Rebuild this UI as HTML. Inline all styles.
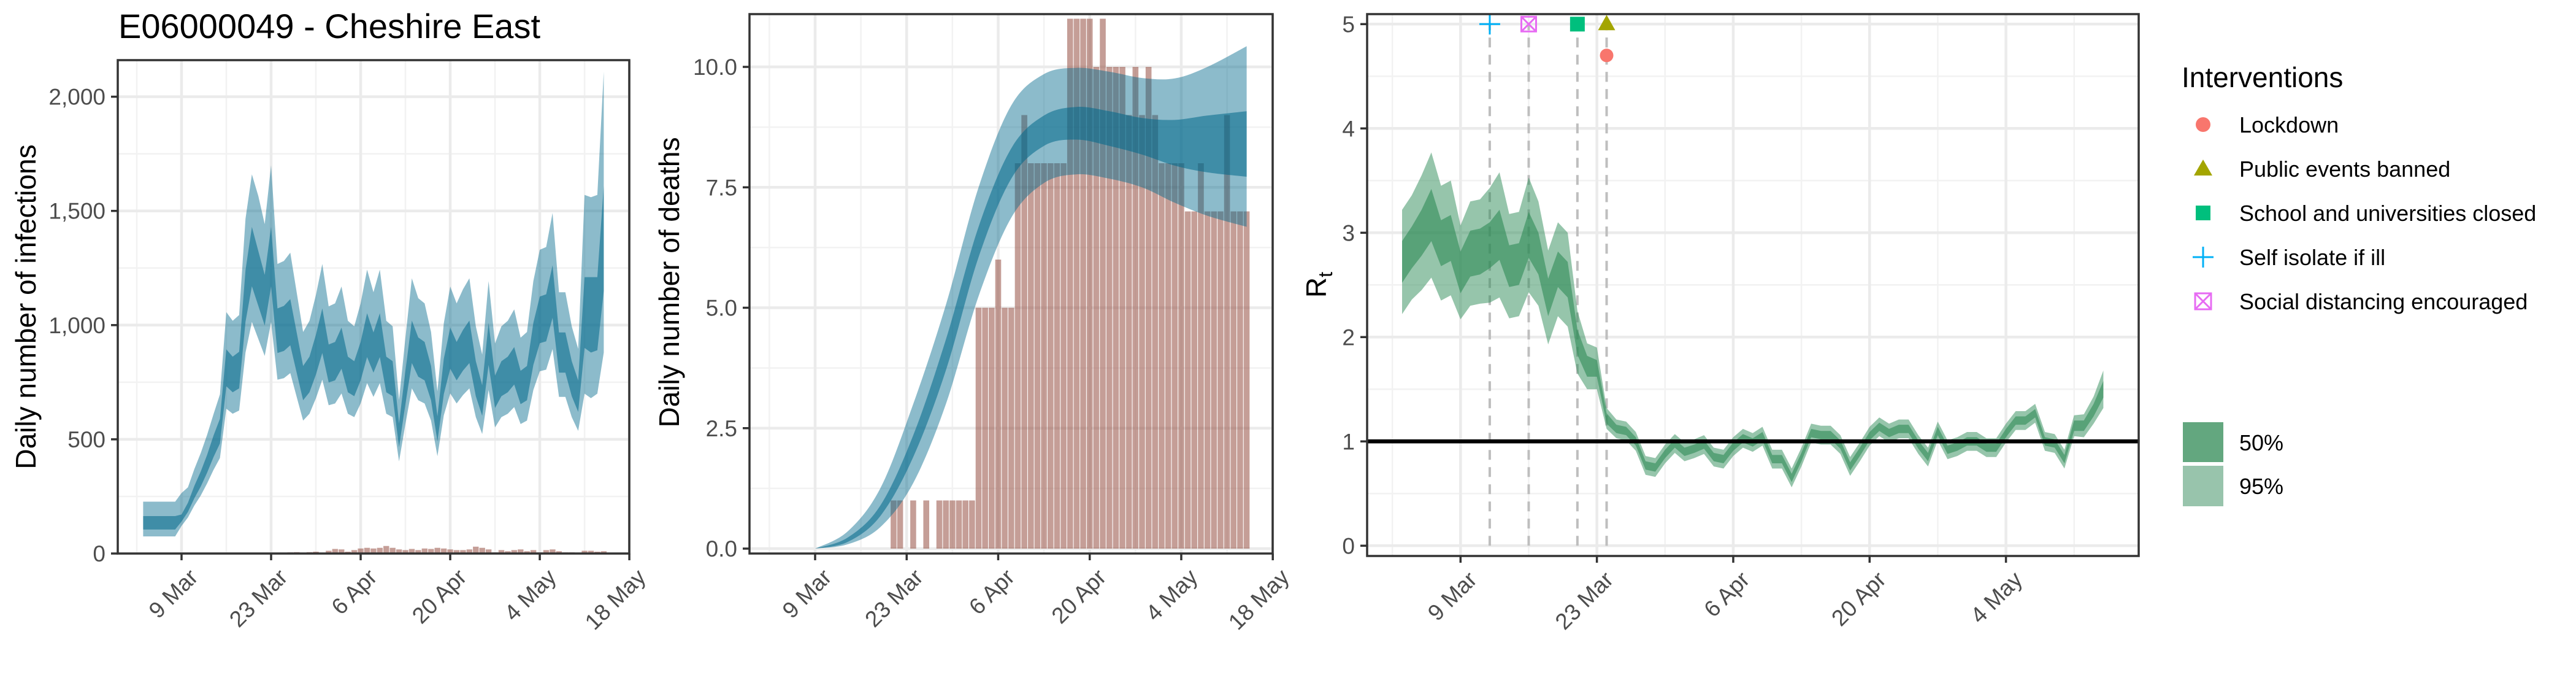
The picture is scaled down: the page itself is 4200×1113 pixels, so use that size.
<!DOCTYPE html>
<html><head><meta charset="utf-8"><style>
html,body{margin:0;padding:0;background:#fff;}
svg{display:block;font-family:"Liberation Sans",Arial,sans-serif;}
</style></head><body>
<svg id="chart" xmlns="http://www.w3.org/2000/svg" width="4200" height="1113" viewBox="0 0 4200 1113">
<rect x="0" y="0" width="4200" height="1113" fill="#ffffff"/>
<text x="193" y="62" font-size="56" fill="#000">E06000049 - Cheshire East</text>
<text transform="translate(58,500) rotate(-90)" text-anchor="middle" font-size="46" fill="#000">Daily number of infections</text>
<text transform="translate(1107,460) rotate(-90)" text-anchor="middle" font-size="46" fill="#000">Daily number of deaths</text>
<text transform="translate(2162,464) rotate(-90)" text-anchor="middle" font-size="46" fill="#000">R<tspan font-size="32" dy="10">t</tspan></text>
<g id="legend">
<text x="3557" y="142" font-size="46" fill="#000">Interventions</text>
<circle cx="3592" cy="203" r="12" fill="#F8766D"/>
<text x="3651" y="216" font-size="36">Lockdown</text>
<polygon points="3577,286 3607,286 3592,260" fill="#A3A500"/>
<text x="3651" y="288" font-size="36">Public events banned</text>
<rect x="3580" y="335" width="24" height="24" fill="#00BF7D"/>
<text x="3651" y="360" font-size="36">School and universities closed</text>
<path d="M3575,419 H3609 M3592,402 V436" stroke="#00B0F6" stroke-width="3" fill="none"/>
<text x="3651" y="432" font-size="36">Self isolate if ill</text>
<path d="M3579,478 h26 v26 h-26 z M3579,478 L3605,504 M3605,478 L3579,504" stroke="#E76BF3" stroke-width="3" fill="none"/>
<text x="3651" y="504" font-size="36">Social distancing encouraged</text>
<rect x="3559" y="688" width="66" height="65" fill="#63A77F"/>
<text x="3651" y="734" font-size="36">50%</text>
<rect x="3559" y="759" width="66" height="66" fill="#98C4AC"/>
<text x="3651" y="805" font-size="36">95%</text>
</g>
</svg>
<script>
// ---------- data ----------
const tickDays = [0, 14, 28, 42, 56, 70];
const tickLabels = ["9 Mar", "23 Mar", "6 Apr", "20 Apr", "4 May", "18 May"];
const rtTickDays = [0, 14, 28, 42, 56];
const rtTickLabels = ["9 Mar", "23 Mar", "6 Apr", "20 Apr", "4 May"];
// days since 9 Mar for daily series (3 Mar .. 14 May)
const infDays = [-6,-5,-4,-3,-2,-1,0,1,2,3,4,5,6,7,8,9,10,11,12,13,14,15,16,17,18,19,20,21,22,23,24,25,26,27,28,29,30,31,32,33,34,35,36,37,38,39,40,41,42,43,44,45,46,47,48,49,50,51,52,53,54,55,56,57,58,59,60,61,62,63,64,65,66];
const infLo95 = [75,75,75,75,75,75,121,158,210,254,307,366,418,634,612,626,880,1014,939,865,1014,761,768,790,686,582,612,679,761,649,657,701,612,597,657,746,686,746,612,597,403,567,723,671,657,582,426,605,701,657,694,723,597,523,716,552,597,612,641,567,582,716,798,805,895,686,686,597,537,700,680,700,880];
const infLo50 = [105,105,105,105,105,105,140,182,242,293,354,422,482,732,706,723,1015,1170,1084,998,1170,878,887,912,792,671,706,783,878,749,758,809,706,689,758,860,792,860,706,689,465,654,834,774,758,671,491,698,809,758,801,834,689,603,826,637,689,706,740,654,671,826,921,929,1032,792,792,689,620,900,880,890,1150];
const infHi50 = [164,164,164,164,164,164,171,222,296,359,432,516,590,894,862,883,1241,1430,1324,1220,1430,1073,1084,1114,968,821,862,957,1073,915,926,989,862,842,926,1052,968,1052,862,842,569,800,1020,946,926,821,601,853,989,926,979,1020,842,737,1010,779,842,862,904,800,821,1010,1125,1135,1262,968,968,842,758,1210,1210,1210,1610];
const infHi95 = [227,227,227,227,227,227,265,290,370,440,520,610,697,1057,1019,1044,1466,1660,1565,1442,1700,1268,1281,1317,1144,970,1019,1131,1268,1082,1095,1169,1019,995,1095,1243,1144,1243,1019,995,672,945,1205,1118,1095,970,710,1008,1169,1095,1157,1205,995,871,1193,920,995,1019,1069,945,970,1193,1330,1342,1491,1144,1144,995,896,1570,1560,1570,2110];
const caseDays = [15,16,17,18,19,20,21,22,23,24,25,26,27,28,29,30,31,32,33,34,35,36,37,38,39,40,41,42,43,44,45,46,47,48,49,50,51,52,53,54,55,56,57,58,59,60,61,62,63,64,65,66];
const caseVals = [2,3,5,6,4,6,8,4,12,20,18,8,15,22,25,22,25,33,25,18,15,20,15,22,20,25,22,18,15,15,18,30,25,18,5,15,10,15,18,10,15,5,15,18,10,5,5,3,12,12,8,10];
const deathDays = [12,13,14,15,16,17,18,19,20,21,22,23,24,25,26,27,28,29,30,31,32,33,34,35,36,37,38,39,40,41,42,43,44,45,46,47,48,49,50,51,52,53,54,55,56,57,58,59,60,61,62,63,64,65,66];
const deathVals = [1,1,0,1,0,1,0,1,1,1,1,1,1,5,5,5,6,5,5,8,9,8,8,8,8,8,8,11,11,11,11,10,11,10,10,10,9,10,9,10,9,8,8,8,8,7,7,8,7,7,7,9,7,7,7];
const dBandDays = [0,5,10,15,20,25,30,35,40,45,50,55,60,66];
const dHi95 = [0,0.36,1.26,3.0,5.06,7.5,9.2,9.85,9.98,9.9,9.77,9.76,10.0,10.43];
const dHi50 = [0,0.23,0.9,2.35,4.34,6.68,8.31,8.99,9.17,9.08,8.94,8.9,8.99,9.08];
const dLo50 = [0,0.14,0.68,1.9,3.7,6.05,7.68,8.36,8.49,8.36,8.18,7.95,7.81,7.72];
const dLo95 = [0,0.09,0.45,1.36,3.0,5.24,6.87,7.59,7.77,7.68,7.5,7.18,6.91,6.68];
const rtMed = [2.72,2.86,3.0,3.17,2.9,2.95,2.62,2.8,2.82,2.88,2.98,2.68,2.7,2.98,2.8,2.38,2.65,2.55,1.95,1.72,1.7,1.22,1.12,1.1,1.0,0.77,0.75,0.88,0.98,0.9,0.93,0.97,0.85,0.83,0.95,1.03,0.99,1.05,0.83,0.83,0.65,0.85,1.08,1.06,1.06,0.97,0.76,0.9,1.05,1.14,1.08,1.12,1.12,0.97,0.85,1.1,0.92,0.95,1.0,1.0,0.94,0.94,1.08,1.2,1.2,1.27,1.0,0.98,0.83,1.15,1.15,1.3,1.5];
const rtW50 = [0.2,0.2,0.22,0.25,0.22,0.22,0.2,0.22,0.22,0.22,0.24,0.2,0.2,0.22,0.2,0.18,0.17,0.17,0.12,0.1,0.08,0.05,0.04,0.04,0.04,0.04,0.04,0.04,0.04,0.04,0.04,0.04,0.04,0.04,0.04,0.04,0.04,0.04,0.04,0.04,0.04,0.04,0.04,0.04,0.04,0.04,0.04,0.04,0.04,0.04,0.04,0.04,0.04,0.04,0.04,0.04,0.04,0.04,0.04,0.04,0.04,0.04,0.04,0.04,0.04,0.04,0.04,0.04,0.04,0.05,0.05,0.06,0.08];
const rtW95 = [0.5,0.5,0.55,0.6,0.55,0.55,0.45,0.5,0.5,0.55,0.6,0.5,0.5,0.55,0.5,0.45,0.45,0.45,0.3,0.22,0.2,0.1,0.09,0.09,0.09,0.09,0.09,0.09,0.09,0.09,0.09,0.09,0.09,0.09,0.09,0.09,0.09,0.09,0.09,0.09,0.09,0.09,0.09,0.09,0.09,0.09,0.09,0.09,0.09,0.09,0.09,0.09,0.09,0.09,0.09,0.09,0.09,0.09,0.09,0.09,0.09,0.09,0.09,0.09,0.09,0.09,0.09,0.09,0.09,0.1,0.11,0.13,0.18];
const ivNames = ["self-isolate","social-distancing","school-closed","public-events","lockdown"];
const ivDays = [3, 7, 12, 15, 15];
const ivY = [5, 5, 5, 5, 4.7];

// ---------- helpers ----------
const NS = "http://www.w3.org/2000/svg";
const svg = document.getElementById("chart");
const legendNode = document.getElementById("legend");
function mk(tag, attrs, parent) {
  const el = document.createElementNS(NS, tag);
  for (const k in attrs) el.setAttribute(k, attrs[k]);
  (parent || svg).insertBefore(el, legendNode);
  return el;
}
function poly(xs, ys) { return xs.map((x, i) => (i ? "L" : "M") + x.toFixed(1) + "," + ys[i].toFixed(1)).join(""); }
function bandPath(days, lo, hi, fx, fy) {
  const xs = days.map(fx);
  const top = hi.map(fy), bot = lo.map(fy);
  return poly(xs.concat(xs.slice().reverse()), top.concat(bot.slice().reverse())) + "Z";
}
function smoothPts(xs, ys) {
  let d = "";
  for (let i = 0; i < xs.length - 1; i++) {
    const x0 = xs[Math.max(0, i - 1)], y0 = ys[Math.max(0, i - 1)];
    const x1 = xs[i], y1 = ys[i], x2 = xs[i + 1], y2 = ys[i + 1];
    const x3 = xs[Math.min(xs.length - 1, i + 2)], y3 = ys[Math.min(xs.length - 1, i + 2)];
    if (i === 0) d += "M" + x1.toFixed(1) + "," + y1.toFixed(1);
    d += "C" + (x1 + (x2 - x0) / 6).toFixed(1) + "," + (y1 + (y2 - y0) / 6).toFixed(1) + " " +
         (x2 - (x3 - x1) / 6).toFixed(1) + "," + (y2 - (y3 - y1) / 6).toFixed(1) + " " + x2.toFixed(1) + "," + y2.toFixed(1);
  }
  return d;
}
function smoothBand(days, lo, hi, fx, fy) {
  const xs = days.map(fx);
  const top = smoothPts(xs, hi.map(fy));
  const rx = xs.slice().reverse(), rl = lo.map(fy).reverse();
  const bot = smoothPts(rx, rl).replace(/^M/, "L");
  return top + bot + "Z";
}

function frame(P, name) {
  const minorX = [-7, 7, 21, 35, 49, 63];
  minorX.forEach(d => {
    const x = P.fx(d);
    if (x <= P.L || x >= P.R) return;
    const g = mk("line", {x1: x, x2: x, y1: P.T, y2: P.B, stroke: "#F2F2F2", "stroke-width": 2.5});
    
    
  });
  P.minorY.forEach(v => {
    const y = P.fy(v);
    const g = mk("line", {x1: P.L, x2: P.R, y1: y, y2: y, stroke: "#F2F2F2", "stroke-width": 2.5});
    
    
  });
  P.ticks.forEach(d => {
    const x = P.fx(d);
    const g = mk("line", {x1: x, x2: x, y1: P.T, y2: P.B, stroke: "#EBEBEB", "stroke-width": 4.5});
    
    
  });
  P.yTicks.forEach(v => {
    const y = P.fy(v);
    const g = mk("line", {x1: P.L, x2: P.R, y1: y, y2: y, stroke: "#EBEBEB", "stroke-width": 4.5});
    
    
  });
}
function axes(P, name) {
  const b = mk("rect", {x: P.L, y: P.T, width: P.R - P.L, height: P.B - P.T, fill: "none", stroke: "#333333", "stroke-width": 3.5});
  
  
  P.ticks.forEach((d, i) => {
    const x = P.fx(d);
    const t = mk("line", {x1: x, x2: x, y1: P.B, y2: P.B + 11, stroke: "#333333", "stroke-width": 3.5});
    
    
    const lb = mk("text", {transform: "translate(" + (x + 10) + "," + (P.B + 22) + ") rotate(-45)", "text-anchor": "end", dy: "0.72em", "font-size": 37, fill: "#4D4D4D"});
    lb.textContent = P.tickLabels[i];
    
    
  });
  P.yTicks.forEach((v, i) => {
    const y = P.fy(v);
    const t = mk("line", {x1: P.L - 11, x2: P.L, y1: y, y2: y, stroke: "#333333", "stroke-width": 3.5});
    
    
    const lb = mk("text", {x: P.L - 20, y: y + 13, "text-anchor": "end", "font-size": 37, fill: "#4D4D4D"});
    lb.textContent = P.yLabels[i];
    
    
  });
}

// ---------- panel 1: infections ----------
const P1 = {L: 192, R: 1026, T: 98, B: 902, fx: d => 296 + 10.43 * d, fy: v => 902 - v * 0.3722,
  ticks: tickDays, tickLabels: tickLabels, yTicks: [0, 500, 1000, 1500, 2000], yLabels: ["0", "500", "1,000", "1,500", "2,000"], minorY: [250, 750, 1250, 1750]};
frame(P1, "infections");
const a1 = mk("path", {d: bandPath(infDays, infLo95, infHi95, P1.fx, P1.fy), fill: "#00688B", "fill-opacity": 0.45});


const a2 = mk("path", {d: bandPath(infDays, infLo50, infHi50, P1.fx, P1.fy), fill: "#00688B", "fill-opacity": 0.55});


caseDays.forEach((d, i) => {
  const x = P1.fx(d), w = 10.43 * 0.9;
  const r = mk("rect", {x: x - w / 2, y: P1.fy(caseVals[i]), width: w, height: P1.fy(0) - P1.fy(caseVals[i]), fill: "#8B3E2F", "fill-opacity": 0.5});
  
  
});
axes(P1, "infections");

// ---------- panel 2: deaths ----------
const P2 = {L: 1222, R: 2075, T: 23, B: 902, fx: d => 1329 + 10.66 * d, fy: v => 894 - v * 78.5,
  ticks: tickDays, tickLabels: tickLabels, yTicks: [0, 2.5, 5, 7.5, 10], yLabels: ["0.0", "2.5", "5.0", "7.5", "10.0"], minorY: [1.25, 3.75, 6.25, 8.75]};
frame(P2, "deaths");
deathDays.forEach((d, i) => {
  if (!deathVals[i]) return;
  const x = P2.fx(d), w = 10.66 * 0.9;
  const r = mk("rect", {x: x - w / 2, y: P2.fy(deathVals[i]), width: w, height: P2.fy(0) - P2.fy(deathVals[i]), fill: "#8B3E2F", "fill-opacity": 0.5});
  
  
});
const b1 = mk("path", {d: smoothBand(dBandDays, dLo95, dHi95, P2.fx, P2.fy), fill: "#00688B", "fill-opacity": 0.45});


const b2 = mk("path", {d: smoothBand(dBandDays, dLo50, dHi50, P2.fx, P2.fy), fill: "#00688B", "fill-opacity": 0.55});


axes(P2, "deaths");

// ---------- panel 3: Rt ----------
const P3 = {L: 2229, R: 3487, T: 23, B: 906, fx: d => 2381.3 + 15.88 * d, fy: v => 889.3 - v * 170,
  ticks: rtTickDays, tickLabels: rtTickLabels, yTicks: [0, 1, 2, 3, 4, 5], yLabels: ["0", "1", "2", "3", "4", "5"], minorY: [0.5, 1.5, 2.5, 3.5, 4.5]};
frame(P3, "rt");
ivDays.forEach((d, i) => {
  const x = P3.fx(d);
  const l = mk("line", {x1: x, x2: x, y1: P3.fy(0), y2: P3.fy(5), stroke: "#BEBEBE", "stroke-width": 4, "stroke-dasharray": "16 12"});
  
  
});
const rLo95 = rtMed.map((m, i) => m - rtW95[i]), rHi95 = rtMed.map((m, i) => m + rtW95[i]);
const rLo50 = rtMed.map((m, i) => m - rtW50[i]), rHi50 = rtMed.map((m, i) => m + rtW50[i]);
const c1 = mk("path", {d: bandPath(infDays, rLo95, rHi95, P3.fx, P3.fy), fill: "#2E8B57", "fill-opacity": 0.5});


const c2 = mk("path", {d: bandPath(infDays, rLo50, rHi50, P3.fx, P3.fy), fill: "#2E8B57", "fill-opacity": 0.6});


const h1 = mk("line", {x1: P3.L, x2: P3.R, y1: P3.fy(1), y2: P3.fy(1), stroke: "#000", "stroke-width": 6.5});


(function () {
  const cols = ["#00B0F6", "#E76BF3", "#00BF7D", "#A3A500", "#F8766D"];
  ivDays.forEach((d, i) => {
    const x = P3.fx(d), y = P3.fy(ivY[i]);
    let el;
    if (i === 0) el = mk("path", {d: "M" + (x - 17) + "," + y + "H" + (x + 17) + "M" + x + "," + (y - 17) + "V" + (y + 17), stroke: cols[i], "stroke-width": 3, fill: "none"});
    else if (i === 1) el = mk("path", {d: "M" + (x - 12) + "," + (y - 12) + "h24v24h-24zL" + (x + 12) + "," + (y + 12) + "M" + (x + 12) + "," + (y - 12) + "L" + (x - 12) + "," + (y + 12), stroke: cols[i], "stroke-width": 3, fill: "none"});
    else if (i === 2) el = mk("rect", {x: x - 12, y: y - 12, width: 24, height: 24, fill: cols[i]});
    else if (i === 3) el = mk("polygon", {points: (x - 14) + "," + (y + 10) + " " + (x + 14) + "," + (y + 10) + " " + x + "," + (y - 15), fill: cols[i]});
    else el = mk("circle", {cx: x, cy: y, r: 11, fill: cols[i]});
    
    
  });
})();
axes(P3, "rt");
</script>
</body></html>
